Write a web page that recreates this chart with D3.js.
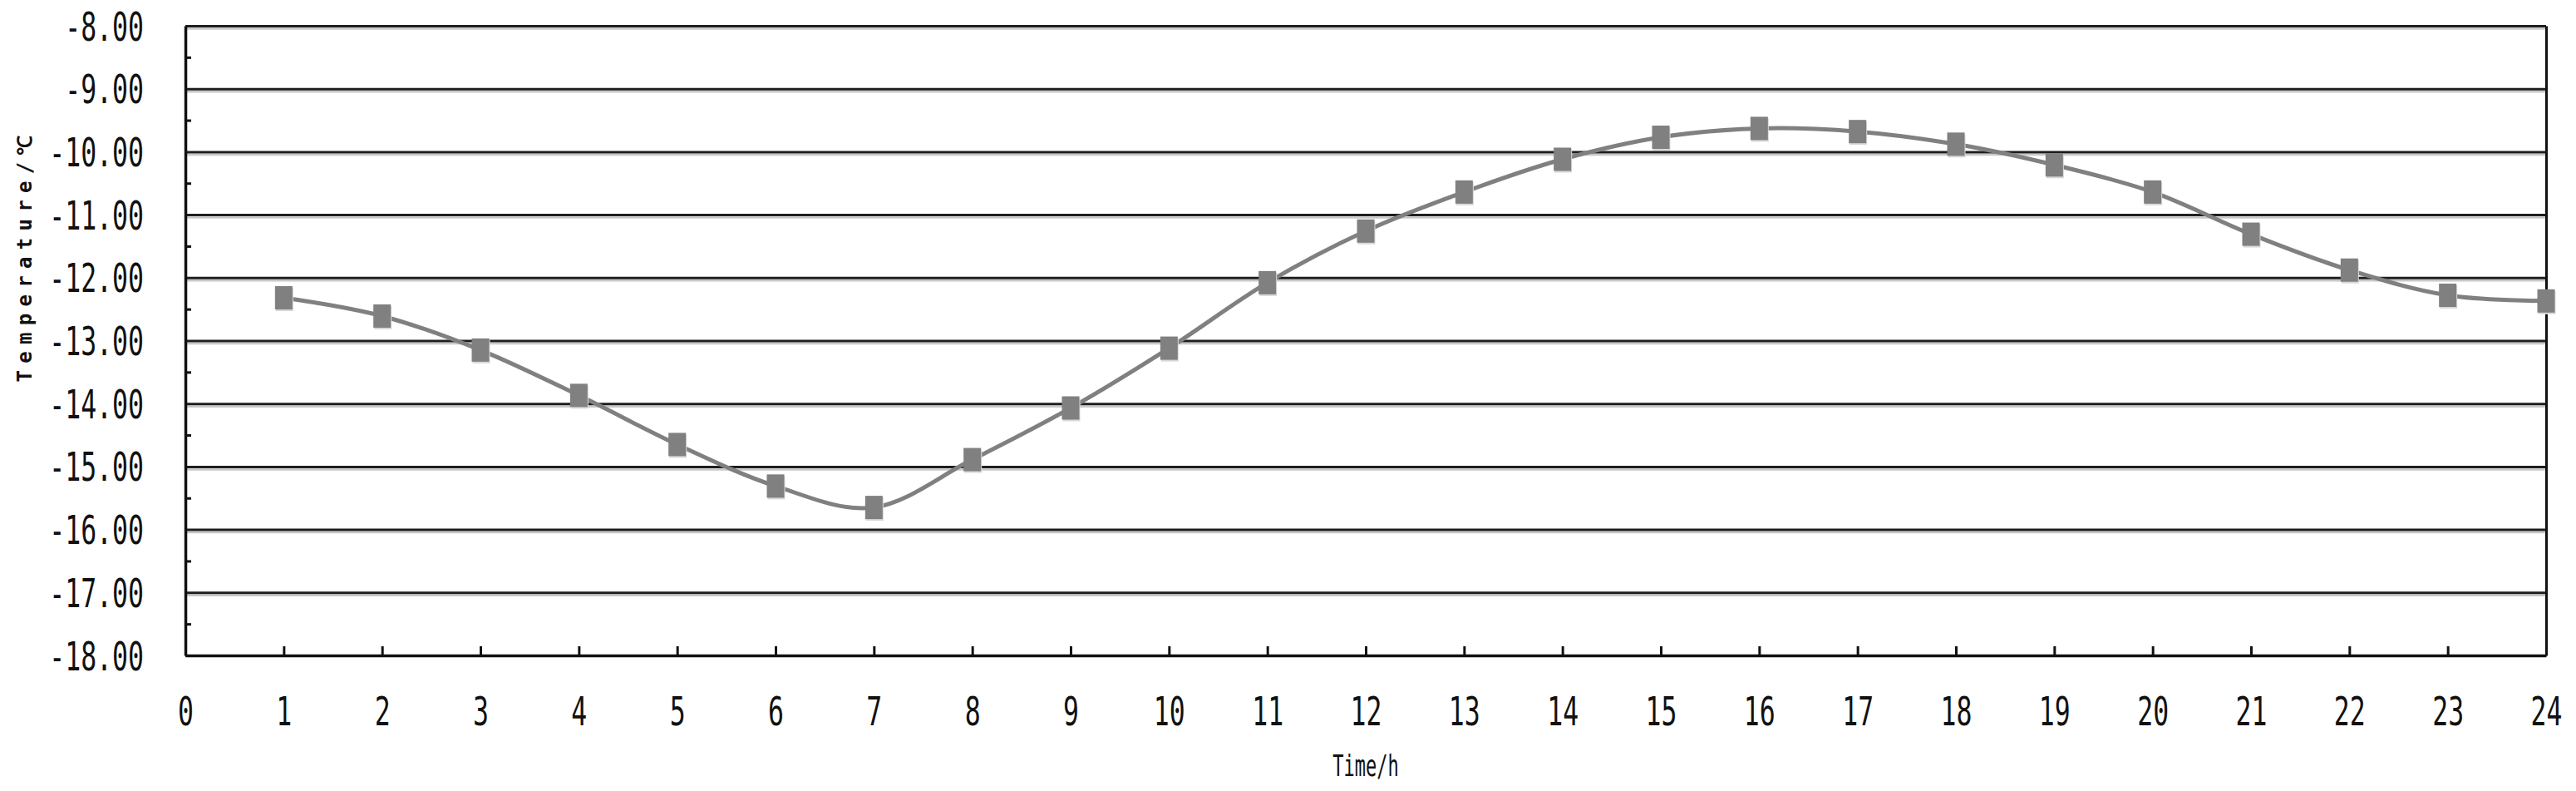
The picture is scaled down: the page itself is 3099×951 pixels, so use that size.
<!DOCTYPE html>
<html>
<head>
<meta charset="utf-8">
<script src="https://cdn.jsdelivr.net/npm/d3@7/dist/d3.min.js"></script>
<style>
  html, body { margin: 0; padding: 0; background: #fff; }
  svg { display: block; }
</style>
</head>
<body>
<svg id="chart" width="3099" height="951"></svg>
<script>
// ---- data ----
const hours = [1,2,3,4,5,6,7,8,9,10,11,12,13,14,15,16,17,18,19,20,21,22,23,24];
const temperature = [-12.32,-12.61,-13.15,-13.87,-14.65,-15.31,-15.65,-14.89,-14.07,-13.12,-12.08,-11.26,
                     -10.64,-10.12,-9.77,-9.63,-9.68,-9.88,-10.21,-10.64,-11.31,-11.88,-12.28,-12.37];
const xTickValues = [0,1,2,3,4,5,6,7,8,9,10,11,12,13,14,15,16,17,18,19,20,21,22,23,24];
const yTickValues = [-8,-9,-10,-11,-12,-13,-14,-15,-16,-17,-18];
const yTickLabels = ["-8.00","-9.00","-10.00","-11.00","-12.00","-13.00","-14.00","-15.00","-16.00","-17.00","-18.00"];
const yMinorValues = [-8.5,-9.5,-10.5,-11.5,-12.5,-13.5,-14.5,-15.5,-16.5,-17.5];
const xTitle = "Time/h";
const yTitle = "Temperature/℃";

// ---- layout ----
const margin = {left: 223, top: 31};
const W = 2840, H = 757;
const FONT = "'DejaVu Sans Mono', 'Liberation Mono', monospace";

const svg = d3.select("#chart");
const g = svg.append("g").attr("transform", `translate(${margin.left},${margin.top})`);

const x = d3.scaleLinear().domain([0, 24]).range([0, W]);
const y = d3.scaleLinear().domain([-18, -8]).range([H, 0]);

// grid shadow
g.append("g").attr("transform", "translate(0,3)")
  .call(d3.axisLeft(y).tickValues(yTickValues.slice(0, -1)).tickSize(-W).tickFormat(""))
  .call(s => s.select(".domain").remove())
  .call(s => s.selectAll("line").attr("stroke", "#c8c8c8").attr("stroke-width", 2.5));

// grid lines
g.append("g")
  .call(d3.axisLeft(y).tickValues(yTickValues).tickSize(-W).tickFormat(""))
  .call(s => s.select(".domain").remove())
  .call(s => s.selectAll("line").attr("stroke", "#1e1e1e").attr("stroke-width", 3));

// minor y ticks
g.append("g")
  .call(d3.axisLeft(y).tickValues(yMinorValues).tickSize(-7).tickFormat(""))
  .call(s => s.select(".domain").remove())
  .call(s => s.selectAll("line").attr("stroke", "#111").attr("stroke-width", 3));

// right border
g.append("g").attr("transform", `translate(${W},0)`)
  .call(d3.axisRight(y).tickValues([]).tickSizeOuter(0))
  .call(s => s.select(".domain").attr("stroke", "#111").attr("stroke-width", 3));

// y axis with labels
const yAxis = g.append("g")
  .call(d3.axisLeft(y).tickValues(yTickValues).tickSize(0).tickSizeOuter(0)
    .tickFormat((d, i) => yTickLabels[i]));
yAxis.select(".domain").attr("stroke", "#111").attr("stroke-width", 3.5);
yAxis.selectAll("text")
  .attr("x", 0).attr("y", 0).attr("dy", "0.36em")
  .attr("transform", "translate(-50,0) scale(1,1.5)")
  .style("font-family", FONT).style("font-size", "31.5px").attr("fill", "#111");

// x axis
const xAxis = g.append("g").attr("transform", `translate(0,${H})`)
  .call(d3.axisBottom(x).tickValues(xTickValues).tickSizeInner(-11).tickSizeOuter(0).tickFormat(d3.format("d")));
xAxis.select(".domain").attr("stroke", "#111").attr("stroke-width", 3.5);
xAxis.selectAll(".tick line").attr("stroke", "#111").attr("stroke-width", 3)
  .filter(d => d === 0 || d === 24).remove();
xAxis.selectAll("text")
  .attr("x", 0).attr("y", 0).attr("dy", "0.36em")
  .attr("transform", "translate(0,67) scale(1,1.5)")
  .style("font-family", FONT).style("font-size", "31.5px").attr("fill", "#111");

// line
const pts = hours.map((h, i) => [h, temperature[i]]);
const line = d3.line().x(d => x(d[0])).y(d => y(d[1])).curve(d3.curveCatmullRom.alpha(0));
g.append("path").datum(pts)
  .attr("d", line).attr("fill", "none").attr("stroke", "#808080").attr("stroke-width", 5);

// markers
const mw = 21, mh = 28;
g.selectAll("rect.shadow").data(pts).join("rect").attr("class", "shadow")
  .attr("x", d => x(d[0]) - mw/2 + 1).attr("y", d => y(d[1]) - mh/2 + 2)
  .attr("width", mw).attr("height", mh).attr("fill", "#d8d8d8");
g.selectAll("rect.mk").data(pts).join("rect").attr("class", "mk")
  .attr("x", d => x(d[0]) - mw/2).attr("y", d => y(d[1]) - mh/2)
  .attr("width", mw).attr("height", mh).attr("fill", "#808080");

// titles
svg.append("text")
  .attr("transform", `translate(${margin.left + W/2},920) scale(1,1.6)`)
  .attr("text-anchor", "middle").attr("dy", "0.36em")
  .style("font-family", FONT).style("font-size", "22px").attr("fill", "#111")
  .text(xTitle);

svg.append("text")
  .attr("transform", "translate(29,311) rotate(-90)")
  .attr("text-anchor", "middle").attr("dy", "0.36em")
  .attr("textLength", 297).attr("lengthAdjust", "spacing")
  .style("font-family", FONT).style("font-size", "24px").style("font-weight", "bold").attr("fill", "#111")
  .text(yTitle);
</script>
</body>
</html>
